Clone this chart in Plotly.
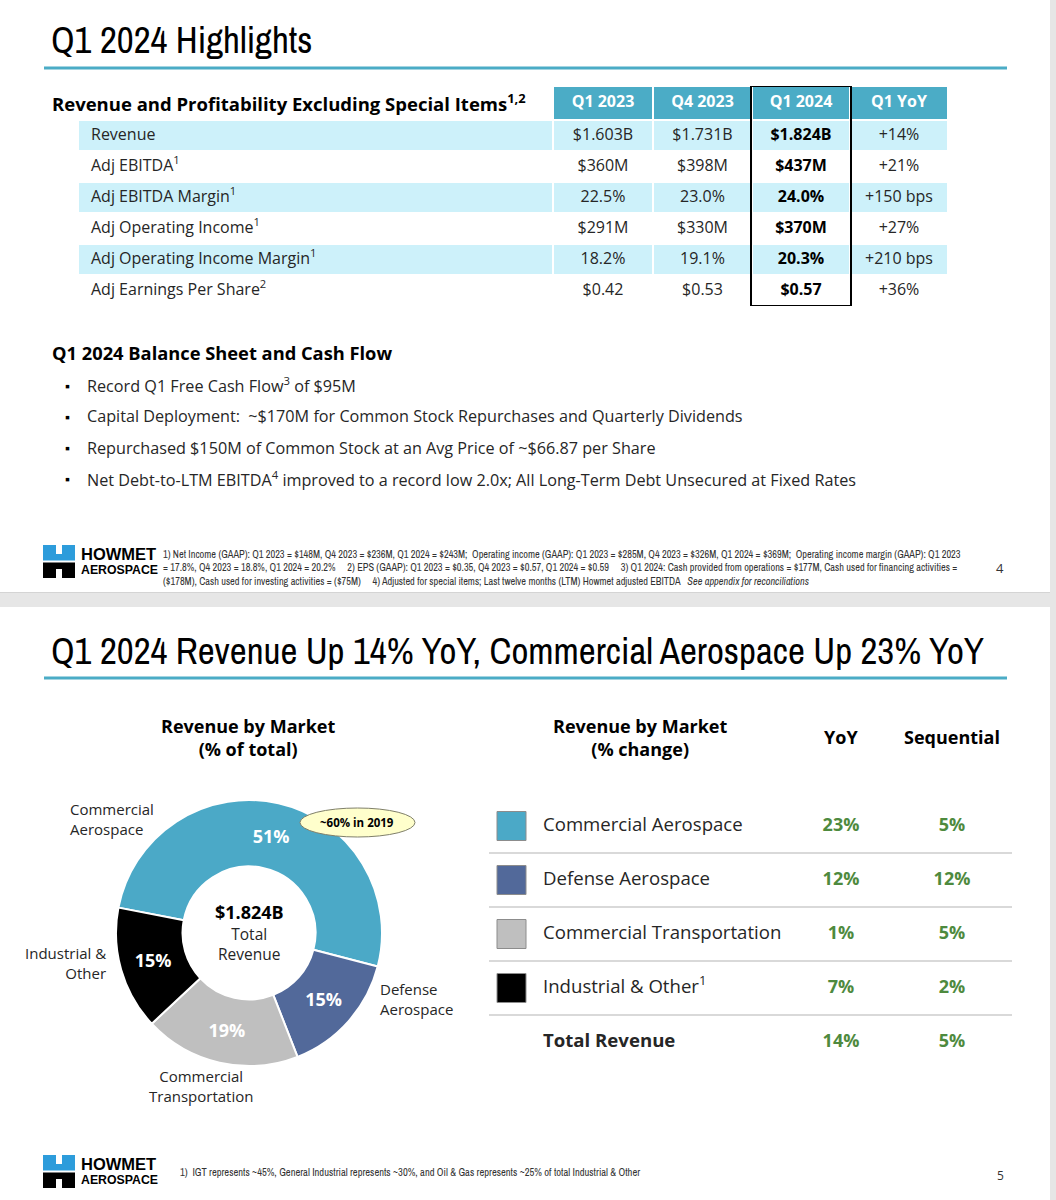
import plotly.graph_objects as go

# ---------------- data ----------------
table_title = "Revenue and Profitability Excluding Special Items<sup>1,2</sup>"
table_cols = ["Q1 2023", "Q4 2023", "Q1 2024", "Q1 YoY"]
metrics = ["Revenue", "Adj EBITDA<sup>1</sup>", "Adj EBITDA Margin<sup>1</sup>",
           "Adj Operating Income<sup>1</sup>", "Adj Operating Income Margin<sup>1</sup>",
           "Adj Earnings Per Share<sup>2</sup>"]
q1_2023 = ["$1.603B", "$360M", "22.5%", "$291M", "18.2%", "$0.42"]
q4_2023 = ["$1.731B", "$398M", "23.0%", "$330M", "19.1%", "$0.53"]
q1_2024 = ["$1.824B", "$437M", "24.0%", "$370M", "20.3%", "$0.57"]
q1_yoy = ["+14%", "+21%", "+150 bps", "+27%", "+210 bps", "+36%"]

bs_title = "Q1 2024 Balance Sheet and Cash Flow"
bullets = [
    "Record Q1 Free Cash Flow<sup>3</sup> of $95M",
    "Capital Deployment:\u00a0 ~$170M for Common Stock Repurchases and Quarterly Dividends",
    "Repurchased $150M of Common Stock at an Avg Price of ~$66.87 per Share",
    "Net Debt-to-LTM EBITDA<sup>4</sup> improved to a record low 2.0x; All Long-Term Debt Unsecured at Fixed Rates",
]
footnotes_1 = [
    "1) Net Income (GAAP): Q1 2023 = $148M, Q4 2023 = $236M, Q1 2024 = $243M;\u00a0 Operating income (GAAP): Q1 2023 = $285M, Q4 2023 = $326M, Q1 2024 = $369M;\u00a0 Operating income margin (GAAP): Q1 2023",
    "= 17.8%, Q4 2023 = 18.8%, Q1 2024 = 20.2%\u00a0\u00a0\u00a0\u00a0 2) EPS (GAAP): Q1 2023 = $0.35, Q4 2023 = $0.57, Q1 2024 = $0.59\u00a0\u00a0\u00a0\u00a0 3) Q1 2024: Cash provided from operations = $177M, Cash used for financing activities =",
    "($178M), Cash used for investing activities = ($75M)\u00a0\u00a0\u00a0\u00a0 4) Adjusted for special items; Last twelve months (LTM) Howmet adjusted EBITDA\u00a0\u00a0 <i>See appendix for reconciliations</i>",
]
footnote_2 = "1)\u00a0 IGT represents ~45%, General Industrial represents ~30%, and Oil & Gas represents ~25% of total Industrial & Other"

title_1 = "Q1 2024 Highlights"
title_2 = "Q1 2024 Revenue Up 14% YoY, Commercial Aerospace Up 23% YoY"

markets = ["Commercial Aerospace", "Defense Aerospace", "Commercial Transportation", "Industrial & Other"]
market_labels = ["Commercial<br>Aerospace", "Defense<br>Aerospace", "Commercial<br>Transportation", "Industrial &<br>Other"]
market_share = [51, 15, 19, 15]
market_yoy = [23, 12, 1, 7]
market_seq = [5, 12, 5, 2]
total_revenue = "$1.824B"
total_yoy = 14
total_seq = 5
callout = "~60% in 2019"

# ---------------- styles ----------------
W, H = 1056, 1200
BODY = "Open Sans, Noto Sans, sans-serif"
NARROW = "Archivo Narrow, Open Sans"
TEAL = "#4BACC6"
LIGHT = "#CDF1FA"
TXT = "#262626"
GREEN = "#4E8A3E"
market_colors = ["#4BA9C7", "#52699A", "#BFBFBF", "#000000"]

def px(x):
    return x / W

def py(y):
    return 1 - y / H

fig = go.Figure()

# ---------------- top table (heatmap cells + text) ----------------
n_rows = len(metrics) + 1
col_edges = [78, 553, 653, 752, 850, 948]
col_centers = [(col_edges[i] + col_edges[i + 1]) / 2 for i in range(1, len(col_edges) - 1)]
row_edges = [-0.6] + [i + 0.5 for i in range(n_rows)]
header_y = (row_edges[0] + row_edges[1]) / 2
z = [[0] + [2] * len(table_cols)]
for i in range(len(metrics)):
    z.append([1 if i % 2 == 0 else 0] * (len(table_cols) + 1))
fig.add_trace(go.Heatmap(
    z=z, x=col_edges, y=row_edges, xaxis="x3", yaxis="y3",
    colorscale=[[0, "white"], [0.5, LIGHT], [1, TEAL]], zmin=0, zmax=2,
    xgap=2, ygap=2, showscale=False, hoverinfo="skip"))
fig.add_trace(go.Scatter(
    x=col_centers, y=[header_y] * len(table_cols), mode="text", xaxis="x3", yaxis="y3",
    text=table_cols, textposition="middle center",
    textfont=dict(family=BODY, size=16, color="white", weight="bold"),
    showlegend=False, hoverinfo="skip"))
rows_idx = list(range(1, n_rows))
fig.add_trace(go.Scatter(
    x=[91] * len(metrics), y=rows_idx, mode="text", xaxis="x3", yaxis="y3",
    text=metrics, textposition="middle right",
    textfont=dict(family=BODY, size=16, color=TXT), showlegend=False, hoverinfo="skip"))
for ci, (col_vals, w) in enumerate(zip([q1_2023, q4_2023, q1_2024, q1_yoy],
                                       ["normal", "normal", "bold", "normal"])):
    fig.add_trace(go.Scatter(
        x=[col_centers[ci]] * len(col_vals), y=rows_idx, mode="text", xaxis="x3", yaxis="y3",
        text=col_vals, textposition="middle center",
        textfont=dict(family=BODY, size=16, color="black" if w == "bold" else TXT, weight=w),
        showlegend=False, hoverinfo="skip"))

# ---------------- donut ----------------
fig.add_trace(go.Pie(
    labels=markets, values=market_share, hole=0.5, sort=False,
    direction="clockwise", rotation=-79,
    domain=dict(x=[px(116), px(382)], y=[py(1066), py(800)]),
    marker=dict(colors=market_colors, line=dict(color="white", width=2)),
    texttemplate="%{value}%", textposition="inside",
    insidetextorientation="horizontal",
    textfont=dict(family=BODY, size=18, color="white", weight="bold"),
    showlegend=False, hoverinfo="label+percent",
))

# ---------------- right table (market change) ----------------
rows = markets + ["Total Revenue"]
row_txt = [m if m != "Industrial & Other" else m + "<sup>1</sup>" for m in markets] + ["<b>Total Revenue</b>"]
fig.add_trace(go.Scatter(
    x=[511.5] * len(markets), y=markets, mode="markers", xaxis="x2", yaxis="y2",
    marker=dict(symbol="square", size=29, color=market_colors, line=dict(color="#8C8C8C", width=1)),
    showlegend=False, hoverinfo="skip"))
fig.add_trace(go.Scatter(
    x=[543] * len(rows), y=rows, mode="text", xaxis="x2", yaxis="y2",
    text=row_txt, textposition="middle right",
    textfont=dict(family=BODY, size=18.6, color=TXT), showlegend=False, hoverinfo="skip"))
fig.add_trace(go.Scatter(
    x=[841] * len(rows), y=rows, mode="text", xaxis="x2", yaxis="y2",
    text=["%d%%" % v for v in market_yoy + [total_yoy]], textposition="middle center",
    textfont=dict(family=BODY, size=18, color=GREEN, weight="bold"), showlegend=False, hoverinfo="skip"))
fig.add_trace(go.Scatter(
    x=[952] * len(rows), y=rows, mode="text", xaxis="x2", yaxis="y2",
    text=["%d%%" % v for v in market_seq + [total_seq]], textposition="middle center",
    textfont=dict(family=BODY, size=18, color=GREEN, weight="bold"), showlegend=False, hoverinfo="skip"))

shapes = []
annotations = []

def rect(x0, y0, x1, y1, fill, layer="below", line_color=None, lw=0):
    shapes.append(dict(type="rect", xref="x", yref="y", x0=x0, y0=y0, x1=x1, y1=y1,
                       fillcolor=fill, line=dict(color=line_color or fill, width=lw), layer=layer))

def text(x, y, s, size=16, color=TXT, family=BODY, xanchor="left", yanchor="middle", align="left", bold=False):
    annotations.append(dict(x=x, y=y, xref="x", yref="y", text=("<b>%s</b>" % s) if bold else s,
                            showarrow=False, xanchor=xanchor, yanchor=yanchor, align=align,
                            font=dict(size=size, color=color, family=family)))

# background: gap between slides and right edge
rect(0, 592, W, 607, "#E6E6E6")
shapes.append(dict(type="line", xref="x", yref="y", x0=0, x1=W, y0=592.5, y1=592.5,
                   line=dict(color="#D4D4D4", width=1), layer="below"))
rect(1050, 0, W, H, "#E6E6E6")

# title lines
for yy in (68, 678):
    shapes.append(dict(type="line", xref="x", yref="y", x0=44, x1=1007, y0=yy, y1=yy,
                       line=dict(color=TEAL, width=3), layer="below"))

# right table separators
for i in range(len(rows) - 1):
    shapes.append(dict(type="line", xref="x2", yref="y2", x0=489, x1=1012, y0=i + 0.5, y1=i + 0.5,
                       line=dict(color="#D9D9D9", width=2), layer="below"))

# Q1 2024 box around the highlighted column
shapes.append(dict(type="rect", xref="x3", yref="y3", x0=col_edges[3] - 1, x1=col_edges[4] + 1,
                   y0=row_edges[0], y1=row_edges[-1], line=dict(color="black", width=2), layer="above"))

# callout ellipse
shapes.append(dict(type="circle", xref="x", yref="y", x0=300, x1=415, y0=808, y1=837,
                   fillcolor="#FFFFCC", line=dict(color="#7F7F6A", width=1), layer="above"))

# logos
def logo(ox, oy):
    rect(ox, oy, ox + 32, oy + 15.5, "#2D9CDB", layer="above")
    rect(ox, oy + 17.5, ox + 32, oy + 33, "#000000", layer="above")
    rect(ox + 13, oy, ox + 19, oy + 9, "white", layer="above")
    rect(ox + 13, oy + 24, ox + 19, oy + 33, "white", layer="above")
    text(ox + 36, oy + 8.5, "HOWMET", size=16.5, color="black", family="Liberation Sans, Arial", bold=True)
    text(ox + 36, oy + 24.5, "AEROSPACE", size=12.3, color="black", family="Liberation Sans, Arial", bold=True)

logo(43, 545)
logo(43, 1155)

# titles
text(49, 40, title_1, size=37, color="black", family=NARROW)
text(49, 651, title_2, size=37, color="black", family=NARROW)

# top slide texts
text(50, 102, table_title, size=18.5, color="black", bold=True)
text(50, 352, bs_title, size=18.3, color="black", bold=True)
for i, b in enumerate(bullets):
    yy = 385 + i * 31.3
    text(63, yy, "\u25aa", size=14, color="black")
    text(85, yy, b, size=16.2, color=TXT)

text(161, 567, "<br>".join(footnotes_1), size=10.3, color="#333333", family=NARROW)
text(1000, 568, "4", size=13, color="#333333", xanchor="center")

# bottom slide texts
text(248, 737, "Revenue by Market<br>(% of total)", size=18, color="black", xanchor="center", align="center", bold=True)
text(640, 737, "Revenue by Market<br>(% change)", size=18, color="black", xanchor="center", align="center", bold=True)
text(841, 737, "YoY", size=18, color="black", xanchor="center", bold=True)
text(952, 737, "Sequential", size=18, color="black", xanchor="center", bold=True)

text(68, 819, market_labels[0], size=15, align="left")
text(378, 999, market_labels[1], size=15, align="left")
text(201, 1086, market_labels[2], size=15, xanchor="center", align="center")
text(108, 963, market_labels[3], size=15, xanchor="right", align="right")

text(249, 912, total_revenue, size=18, color="black", xanchor="center", bold=True)
text(249, 944, "Total<br>Revenue", size=15.5, xanchor="center", align="center")
text(357, 822.5, callout, size=11.5, color="black", xanchor="center", bold=True)

text(178, 1172, footnote_2, size=10.5, color="#333333", family=NARROW)
text(1000, 1175, "5", size=12, color="#333333", xanchor="center")

fig.update_layout(
    width=W, height=H, margin=dict(l=0, r=0, t=0, b=0),
    paper_bgcolor="white", plot_bgcolor="rgba(0,0,0,0)",
    xaxis=dict(range=[0, W], domain=[0, 1], visible=False, fixedrange=True),
    yaxis=dict(range=[H, 0], domain=[0, 1], visible=False, fixedrange=True),
    xaxis2=dict(range=[489, 1012], domain=[px(489), px(1012)], visible=False, anchor="y2", fixedrange=True),
    yaxis2=dict(type="category", categoryorder="array", categoryarray=rows, range=[4.5, -0.5],
                domain=[py(1069), py(799)], visible=False, anchor="x2", fixedrange=True),
    xaxis3=dict(range=[col_edges[0], col_edges[-1]], domain=[px(col_edges[0]), px(col_edges[-1])],
                visible=False, anchor="y3", fixedrange=True),
    yaxis3=dict(range=[row_edges[-1], row_edges[0]], domain=[py(306), py(86)], visible=False,
                anchor="x3", fixedrange=True),
    shapes=shapes, annotations=annotations, showlegend=False,
)

fig.write_html("out.html", config={"displayModeBar": False},
               post_script="document.body.style.margin='0px';")
